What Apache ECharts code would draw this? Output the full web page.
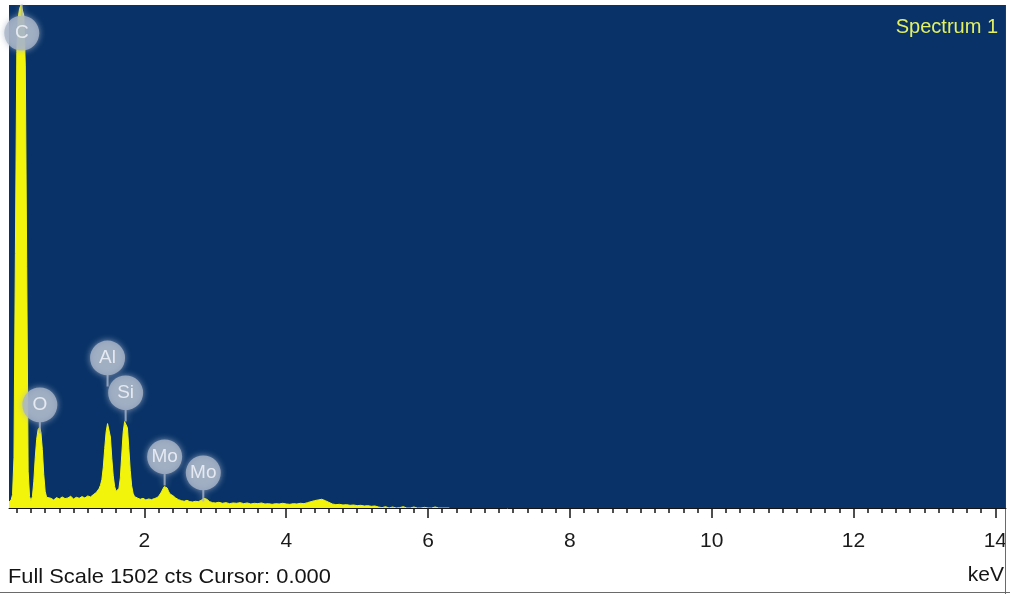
<!DOCTYPE html>
<html>
<head>
<meta charset="utf-8">
<title>Spectrum 1</title>
<script src="https://cdn.jsdelivr.net/npm/echarts@6/dist/echarts.min.js"></script>
<style>
  html, body { margin: 0; padding: 0; background: #ffffff; }
  #chart { width: 1010px; height: 594px; }
</style>
</head>
<body>
<div id="chart"></div>
<script>
// EDS spectrum: energy (keV) and detector counts per sampled channel
const energyKeV = [
  0.09, 0.12, 0.14, 0.16, 0.18, 0.20, 0.22, 0.24, 0.26, 0.28, 0.30, 0.32, 0.34, 0.36, 0.38,
  0.40, 0.42, 0.44, 0.46, 0.48, 0.50, 0.52, 0.54, 0.56, 0.58, 0.60, 0.62, 0.64, 0.68, 0.72,
  0.76, 0.80, 0.84, 0.88, 0.92, 0.96, 1.00, 1.04, 1.08, 1.12, 1.16, 1.20, 1.24, 1.28, 1.32,
  1.36, 1.38, 1.40, 1.42, 1.44, 1.46, 1.48, 1.50, 1.52, 1.54, 1.56, 1.58, 1.60, 1.62, 1.64,
  1.66, 1.68, 1.70, 1.72, 1.74, 1.76, 1.78, 1.80, 1.82, 1.84, 1.86, 1.90, 1.94, 1.98, 2.02,
  2.06, 2.10, 2.14, 2.18, 2.21, 2.24, 2.26, 2.28, 2.30, 2.32, 2.34, 2.36, 2.40, 2.44, 2.48,
  2.52, 2.56, 2.60, 2.64, 2.68, 2.72, 2.76, 2.80, 2.84, 2.86, 2.88, 2.92, 2.96, 3.00, 3.05,
  3.10, 3.15, 3.20, 3.25, 3.30, 3.35, 3.40, 3.45, 3.50, 3.55, 3.60, 3.65, 3.70, 3.75, 3.80,
  3.85, 3.90, 3.95, 4.00, 4.05, 4.10, 4.15, 4.20, 4.25, 4.30, 4.35, 4.40, 4.45, 4.50, 4.55,
  4.60, 4.65, 4.70, 4.75, 4.80, 4.85, 4.90, 4.95, 5.00, 5.05, 5.10, 5.15, 5.20, 5.25, 5.30,
  5.35, 5.40, 5.45, 5.50, 5.55, 5.60, 5.65, 5.70, 5.75, 5.80, 5.85, 5.90, 5.95, 6.00, 6.05,
  6.10, 6.15, 6.20, 6.30
];
const counts = [
  18, 24, 40, 150, 760, 1360, 1465, 1492, 1502, 1500, 1470, 1320, 720, 110, 34,
  22, 34, 80, 150, 205, 234, 240, 226, 175, 100, 50, 32, 27, 29, 24,
  31, 27, 33, 28, 30, 35, 27, 32, 29, 34, 30, 36, 33, 40, 46,
  58, 68, 85, 122, 178, 228, 252, 248, 212, 148, 96, 64, 50, 46, 58,
  90, 158, 226, 258, 263, 240, 178, 112, 66, 44, 34, 30, 26, 29, 24,
  27, 25, 28, 31, 38, 48, 57, 64, 66, 60, 50, 42, 37, 30, 25,
  22, 20, 23, 19, 18, 20, 19, 23, 29, 31, 26, 19, 16, 15, 17,
  14, 16, 13, 15, 14, 16, 13, 15, 12, 14, 13, 15, 12, 13, 11,
  13, 12, 14, 12, 11, 13, 12, 14, 13, 16, 19, 22, 24, 26, 22,
  17, 12, 10, 11, 9, 10, 8, 9, 7, 8, 6, 7, 5, 6, 3,
  1, 4, 0, 3, 0, 1, 4, 0, 0, 3, 0, 0, 2, 0, 0,
  3, 0, 0, 0
];

// Element identification markers: line energy and the count level of the marker tip
const elementNames = ['C', 'O', 'Al', 'Si', 'Mo', 'Mo'];
const elementKeV = [0.270, 0.525, 1.480, 1.735, 2.285, 2.830];
const markerTipCounts = [1502, 224, 364, 260, 69, 21];

// Axis labels and readouts
const tickLabelKeV = [2, 4, 6, 8, 10, 12, 14];
const fullScaleCounts = 1502;
const cursorKeV = 0.000;
const spectrumName = 'Spectrum 1';
const energyUnit = 'keV';

const axisMinKeV = 0.09;
const axisMaxKeV = 14.15;

// minor ticks every 0.2 keV between the labelled ones
const minorTickKeV = [];
for (let k = 1; k <= 70; k++) {
  const v = Math.round(k * 2) / 10;
  if (tickLabelKeV.indexOf(v) < 0) minorTickKeV.push(v);
}

const FONT = '"Liberation Sans", Arial, sans-serif';
const PLOT_BLUE = '#093368';
const TRACE_YELLOW = '#f3f40c';
const MARKER_GREY = '#a9b5c8';

// pin markers: disc with a short stem below (tip at the data point), or stem above
const PIN_DOWN = 'path://M0,17 A17,17 0 1,1 34,17 A17,17 0 1,1 0,17 Z M16,33 L18,33 L18,45 L16,45 Z';
const PIN_UP = 'path://M16,0 L18,0 L18,12 L16,12 Z M0,28 A17,17 0 1,1 34,28 A17,17 0 1,1 0,28 Z';

const spectrumData = energyKeV.map((e, i) => [e, counts[i]]);
const markerData = elementNames.map((name, i) => {
  const up = i === 0;
  return {
    name: name,
    value: [elementKeV[i], markerTipCounts[i]],
    symbol: up ? PIN_UP : PIN_DOWN,
    symbolOffset: [0, up ? 22.5 : -22.5],
    label: { offset: [0, up ? 5.5 : -5.5] }
  };
});

const chart = echarts.init(document.getElementById('chart'), null, { renderer: 'canvas' });

chart.setOption({
  backgroundColor: '#ffffff',
  animation: false,
  grid: {
    left: 9, right: 0, top: 5, bottom: 86,
    show: true, backgroundColor: PLOT_BLUE, borderWidth: 0
  },
  xAxis: [
    {
      type: 'value', position: 'bottom', min: axisMinKeV, max: axisMaxKeV, z: 3,
      axisLine: { show: true, onZero: false, lineStyle: { color: '#151515', width: 1 } },
      axisTick: { show: true, inside: false, length: 10, customValues: tickLabelKeV,
                  lineStyle: { color: '#151515', width: 1.5 } },
      axisLabel: { show: true, customValues: tickLabelKeV, margin: 23, fontSize: 21,
                   color: '#1a1a1a', fontFamily: FONT },
      splitLine: { show: false }
    },
    {
      type: 'value', position: 'bottom', min: axisMinKeV, max: axisMaxKeV, z: 3,
      axisLine: { show: false, onZero: false },
      axisTick: { show: true, inside: false, length: 5, customValues: minorTickKeV,
                  lineStyle: { color: '#151515', width: 1.5 } },
      axisLabel: { show: false },
      splitLine: { show: false }
    }
  ],
  yAxis: {
    type: 'value', min: 0, max: fullScaleCounts, show: false,
    splitLine: { show: false }
  },
  series: [
    {
      type: 'line', name: spectrumName, xAxisIndex: 0, yAxisIndex: 0,
      data: spectrumData, showSymbol: false, smooth: false, z: 2,
      lineStyle: { color: TRACE_YELLOW, width: 1 },
      areaStyle: { color: TRACE_YELLOW, opacity: 1 },
      silent: true
    },
    {
      type: 'scatter', name: 'elements', xAxisIndex: 0, yAxisIndex: 0,
      data: markerData, symbolSize: [35, 46], clip: false, z: 5, silent: true,
      itemStyle: { color: MARKER_GREY, shadowBlur: 6, shadowColor: 'rgba(169,181,200,0.95)' },
      label: {
        show: true, position: 'inside', formatter: '{b}',
        color: '#f6f8fc', fontSize: 19, fontFamily: FONT
      }
    }
  ],
  graphic: [
    {
      type: 'text', x: 998, y: 27, z: 10,
      style: { text: spectrumName, font: '20px ' + FONT, fill: '#e2f062',
               textAlign: 'right', align: 'right', textVerticalAlign: 'middle', verticalAlign: 'middle' }
    },
    {
      type: 'text', x: 8, y: 577, z: 10, scaleX: 1.04,
      style: { text: 'Full Scale ' + fullScaleCounts + ' cts Cursor: ' + cursorKeV.toFixed(3),
               font: '21px ' + FONT, fill: '#141414',
               textAlign: 'left', align: 'left', textVerticalAlign: 'middle', verticalAlign: 'middle' }
    },
    {
      type: 'text', x: 1004, y: 575, z: 10,
      style: { text: energyUnit, font: '21px ' + FONT, fill: '#141414',
               textAlign: 'right', align: 'right', textVerticalAlign: 'middle', verticalAlign: 'middle' }
    },
    // window frame at the right and bottom of the readout strip
    { type: 'rect', z: 9, shape: { x: 1005, y: 509, width: 5, height: 85 }, style: { fill: '#ffffff' } },
    { type: 'line', z: 10, shape: { x1: 1005.5, y1: 509, x2: 1005.5, y2: 594 }, style: { stroke: '#6a6a6a', lineWidth: 1 } },
    { type: 'line', z: 10, shape: { x1: 0, y1: 592.5, x2: 1010, y2: 592.5 }, style: { stroke: '#6a6a6a', lineWidth: 1 } }
  ]
});
</script>
</body>
</html>
